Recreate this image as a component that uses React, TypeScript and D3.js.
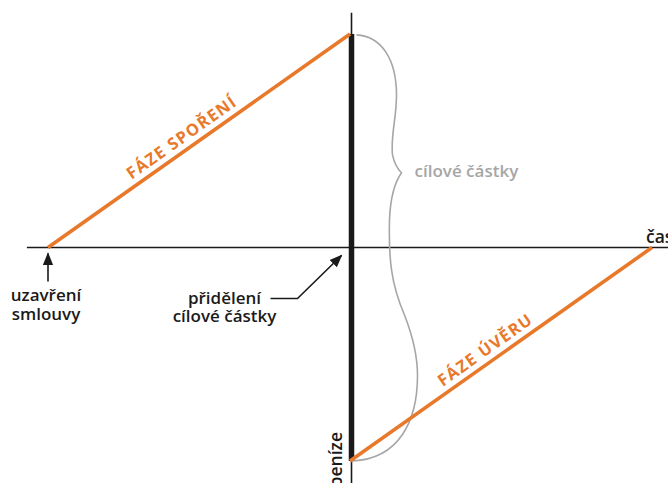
import React from "react";
import * as d3 from "d3";

// time (t) and money (v) in abstract units
const savingsPhase = [{ t: 0, v: 0 }, { t: 1, v: 1 }];
const loanPhase = [{ t: 1, v: -1 }, { t: 2, v: 0 }];
const targetBar = [{ t: 1, v: 1 }, { t: 1, v: -1 }];
const timeAxisExtent = [-0.07, 2.1];
const moneyAxisExtent = [1.1, -1.2];

const labels = {
  savings: "FÁZE SPOŘENÍ",
  loan: "FÁZE ÚVĚRU",
  target: "cílové částky",
  time: "čas",
  money: "peníze",
  contract: ["uzavření", "smlouvy"],
  allocation: ["přidělení", "cílové částky"],
};

const W = 668;
const H = 483;
const ORANGE = "#e8792b";
const GRAY = "#a6a6a6";
const FONT = "'Open Sans', 'DejaVu Sans', sans-serif";

export default function App() {
  const x = d3.scaleLinear().domain([0, 2]).range([48, 652]);
  const y = d3.scaleLinear().domain([-1, 1]).range([461, 34]);

  const line = d3.line<{ t: number; v: number }>()
    .x(d => x(d.t))
    .y(d => y(d.v));

  const x0 = x(0);
  const xMid = x(1) + 1.5;
  const y0 = y(0);
  const yTop = y(1);
  const yBot = y(-1);

  // curly brace to the right of the bar, tip slightly above the middle
  const span = yBot - yTop;
  const by = (f: number) => yTop + f * span;
  const bx = (dx: number) => xMid + dx;
  const brace = d3.path();
  brace.moveTo(bx(5), by(0.002));
  brace.bezierCurveTo(bx(30), by(0.005), bx(45), by(0.06), bx(45), by(0.143));
  brace.bezierCurveTo(bx(45), by(0.2), bx(39), by(0.237), bx(41), by(0.283));
  brace.bezierCurveTo(bx(43), by(0.305), bx(47), by(0.318), bx(50), by(0.325));
  brace.bezierCurveTo(bx(44), by(0.345), bx(39), by(0.375), bx(38), by(0.435));
  brace.bezierCurveTo(bx(37), by(0.53), bx(40), by(0.588), bx(53), by(0.658));
  brace.bezierCurveTo(bx(62), by(0.712), bx(66), by(0.752), bx(66), by(0.8));
  brace.bezierCurveTo(bx(66), by(0.905), bx(48), by(0.995), bx(1), by(1));

  const angle = (a: { t: number; v: number }[]) =>
    (Math.atan2(y(a[1].v) - y(a[0].v), x(a[1].t) - x(a[0].t)) * 180) / Math.PI;

  const along = (a: { t: number; v: number }[], f: number, off: number) => {
    const px = x(a[0].t) + f * (x(a[1].t) - x(a[0].t));
    const py = y(a[0].v) + f * (y(a[1].v) - y(a[0].v));
    const r = (angle(a) * Math.PI) / 180;
    return [px + off * Math.sin(r), py - off * Math.cos(r)];
  };

  const sPos = along(savingsPhase, 0.467, 7);
  const lPos = along(loanPhase, 0.472, 7);

  return (
    <svg width={W} height={H} style={{ position: "absolute", left: 0, top: 0, background: "#fff" }}>
      <defs>
        <marker id="arr" viewBox="0 0 10 10" refX="9" refY="5" markerWidth="8" markerHeight="8" orient="auto">
          <path d="M0,1 L10,5 L0,9 Z" fill="#1a1a1a" />
        </marker>
      </defs>

      {/* axes */}
      <line x1={x(timeAxisExtent[0])} x2={x(timeAxisExtent[1])} y1={y0} y2={y0} stroke="#1a1a1a" strokeWidth={1.6} />
      <line x1={xMid} x2={xMid} y1={y(moneyAxisExtent[0])} y2={y(moneyAxisExtent[1])} stroke="#1a1a1a" strokeWidth={1.6} />

      {/* target amount bar */}
      <path d={line(targetBar) || ""} transform="translate(1.5,0)" stroke="#1a1a1a" strokeWidth={5.5} fill="none" />

      {/* brace */}
      <path d={brace.toString()} fill="none" stroke={GRAY} strokeWidth={1.6} />
      <text x={bx(63)} y={by(0.334)} fontFamily={FONT} fontWeight={600} fontSize={17} fill={GRAY}>{labels.target}</text>

      {/* phases */}
      <path d={line(savingsPhase) || ""} stroke={ORANGE} strokeWidth={3.6} fill="none" />
      <path d={line(loanPhase) || ""} stroke={ORANGE} strokeWidth={3.6} fill="none" />

      <text transform={`translate(${sPos[0]},${sPos[1]}) rotate(${angle(savingsPhase)})`} textAnchor="middle"
        fontFamily={FONT} fontWeight={700} fontSize={16.5} letterSpacing={1.3} fill={ORANGE}>{labels.savings}</text>
      <text transform={`translate(${lPos[0]},${lPos[1]}) rotate(${angle(loanPhase)})`} textAnchor="middle"
        fontFamily={FONT} fontWeight={700} fontSize={16.5} letterSpacing={1.3} fill={ORANGE}>{labels.loan}</text>

      {/* axis labels */}
      <text x={646} y={y0 - 5} fontFamily={FONT} fontWeight={600} fontSize={17.5} fill="#1a1a1a">{labels.time}</text>
      <text transform={`translate(${xMid - 10},${yBot - 29}) rotate(-90)`} textAnchor="end"
        fontFamily={FONT} fontWeight={600} fontSize={17.5} fill="#1a1a1a">{labels.money}</text>

      {/* contract arrow */}
      <line x1={x0} x2={x0} y1={y0 + 34} y2={y0 + 6} stroke="#1a1a1a" strokeWidth={1.6} markerEnd="url(#arr)" />
      <text textAnchor="middle" fontFamily={FONT} fontWeight={600} fontSize={17} fill="#1a1a1a">
        {labels.contract.map((s, i) => (
          <tspan key={s} x={x0 - 2} y={y0 + 53 + i * 19}>{s}</tspan>
        ))}
      </text>

      {/* allocation arrow */}
      <polyline points={`${xMid - 81},${y0 + 51} ${xMid - 54},${y0 + 51} ${xMid - 10},${y0 + 8}`} fill="none"
        stroke="#1a1a1a" strokeWidth={1.6} markerEnd="url(#arr)" />
      <text textAnchor="middle" fontFamily={FONT} fontWeight={600} fontSize={17} fill="#1a1a1a">
        {labels.allocation.map((s, i) => (
          <tspan key={s} x={xMid - 127} y={y0 + 56 + i * 18}>{s}</tspan>
        ))}
      </text>
    </svg>
  );
}
